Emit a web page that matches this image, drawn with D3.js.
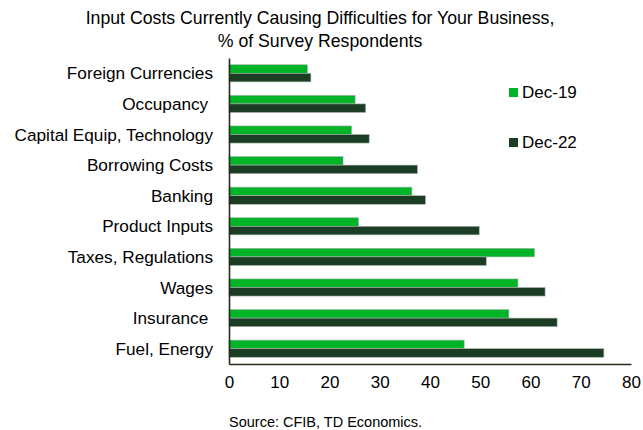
<!DOCTYPE html>
<html>
<head>
<meta charset="utf-8">
<script src="https://cdn.jsdelivr.net/npm/d3@7"></script>
<style>
  html, body { margin: 0; padding: 0; background: #fff; }
  svg text { font-family: Arial, "Liberation Sans", sans-serif; fill: #000; }
</style>
</head>
<body>
<svg id="chart" width="643" height="430"></svg>
<script>
// Input costs causing difficulties, % of survey respondents
const categories = [
  "Foreign Currencies", "Occupancy ", "Capital Equip, Technology", "Borrowing Costs",
  "Banking", "Product Inputs", "Taxes, Regulations", "Wages", "Insurance ", "Fuel, Energy"
];
const seriesNames = ["Dec-19", "Dec-22"];
const dec19 = [15.6, 25.1, 24.4, 22.7, 36.4, 25.8, 60.8, 57.5, 55.7, 46.8];
const dec22 = [16.3, 27.2, 27.9, 37.5, 39.1, 49.8, 51.2, 62.9, 65.3, 74.6];
const xTicks = [0, 10, 20, 30, 40, 50, 60, 70, 80];

const colors = { "Dec-19": "#00b428", "Dec-22": "#1a3d24" };

const svg = d3.select("#chart");
const plot = { left: 229, right: 631, top: 58, bottom: 364 };

const rows = categories.map((c, i) => ({ cat: c, "Dec-19": dec19[i], "Dec-22": dec22[i] }));

const x = d3.scaleLinear().domain([0, 80]).range([plot.left, plot.right]);
const y = d3.scaleBand().domain(categories).range([plot.top, plot.bottom]).paddingInner(0.44).paddingOuter(0.22);
const ySub = d3.scaleBand().domain(seriesNames).range([0, y.bandwidth()]);

// Bars
const groups = svg.append("g").selectAll("g").data(rows).join("g")
  .attr("transform", d => `translate(0,${y(d.cat)})`);
groups.selectAll("rect")
  .data(d => seriesNames.map(s => ({ s, v: d[s] })))
  .join("rect")
  .attr("x", x(0))
  .attr("y", d => ySub(d.s))
  .attr("width", d => x(d.v) - x(0))
  .attr("height", ySub.bandwidth())
  .attr("fill", d => colors[d.s])
  .attr("stroke", "#a9b5aa")
  .attr("stroke-width", 0.6);

// Category labels
svg.append("g").selectAll("text").data(categories).join("text")
  .attr("x", 213)
  .attr("y", d => y(d) + y.bandwidth() / 2)
  .attr("dy", "0.35em")
  .attr("text-anchor", "end")
  .attr("font-size", 17.2)
  .style("white-space", "pre")
  .text(d => d);

// Axes
const xAxis = d3.axisBottom(x).tickValues(xTicks).tickSize(0).tickPadding(12);
const gx = svg.append("g").attr("transform", `translate(0,${plot.bottom})`).call(xAxis);
gx.select(".domain").attr("stroke", "#2a2a1c").attr("stroke-width", 1.6);
gx.selectAll("text").attr("font-size", 17).attr("font-family", "Arial, 'Liberation Sans', sans-serif");

const yAxis = d3.axisLeft(y).tickSize(0).tickFormat("");
const gy = svg.append("g").attr("transform", `translate(${plot.left},0)`).call(yAxis);
gy.select(".domain").attr("stroke", "#2a2a1c").attr("stroke-width", 1.6);

// Legend
const legend = svg.append("g").selectAll("g").data(seriesNames).join("g")
  .attr("transform", (d, i) => `translate(509,${88 + i * 50})`);
legend.append("rect").attr("width", 9).attr("height", 9).attr("fill", d => colors[d]);
legend.append("text").attr("x", 13).attr("y", 4.5).attr("dy", "0.35em")
  .attr("font-size", 17).text(d => d);

// Title
const title = svg.append("text").attr("text-anchor", "middle").attr("font-size", 17.7);
title.append("tspan").attr("x", 320).attr("y", 24).text("Input Costs Currently Causing Difficulties for Your Business,");
title.append("tspan").attr("x", 320).attr("y", 47).text("% of Survey Respondents");

// Source note
svg.append("text").attr("x", 229).attr("y", 427).attr("font-size", 14.5)
  .text("Source: CFIB, TD Economics.");
</script>
</body>
</html>
